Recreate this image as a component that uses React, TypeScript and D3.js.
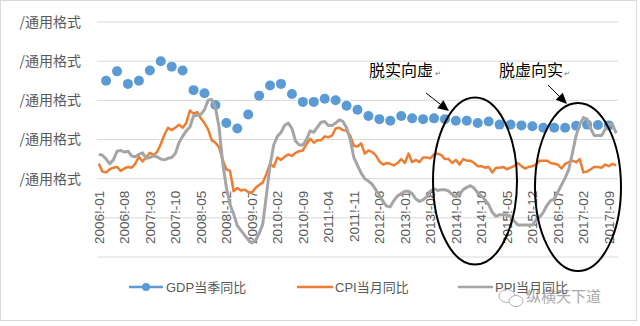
import React from "react";
import * as d3 from "d3";

const W = 640;
const H = 326;

const years = [2006, 2007, 2008, 2009, 2010, 2011, 2012, 2013, 2014, 2015, 2016, 2017];
const monthCount = 143; // 2006-01 .. 2017-11
const categories: string[] = [];
years.forEach((y) => {
  for (let m = 1; m <= 12; m++) {
    if (categories.length < monthCount) categories.push(`${y}!-${String(m).padStart(2, "0")}`);
  }
});

const tickLabels = [
  "2006!-01", "2006!-08", "2007!-03", "2007!-10", "2008!-05", "2008!-12", "2009!-07",
  "2010!-02", "2010!-09", "2011!-04", "2011!-11", "2012!-06", "2013!-01", "2013!-08",
  "2014!-03", "2014!-10", "2015!-05", "2015!-12", "2016!-07", "2017!-02", "2017!-09",
];

const yGrid = [20, 15, 10, 5, 0, -5, -10];
const yLabelTicks = [20, 15, 10, 5, 0];
const yLabelText = "/通用格式";

// GDP quarterly (plotted at quarter-end months)
const gdp = [
  12.5, 13.7, 12.1, 12.5, 13.8, 15.0, 14.3, 13.8, 11.3, 10.9, 9.4, 7.1,
  6.4, 8.2, 10.6, 11.9, 12.1, 10.8, 9.8, 9.8, 10.2, 10.0, 9.3, 8.8,
  8.0, 7.6, 7.4, 8.0, 7.7, 7.6, 7.7, 7.6, 7.4, 7.4, 7.1, 7.3,
  6.9, 6.9, 6.8, 6.7, 6.5, 6.5, 6.5, 6.75, 6.9, 6.85, 6.8,
];

const cpi = [
  1.9, 0.9, 0.8, 1.2, 1.4, 1.5, 1.0, 1.3, 1.5, 1.4, 1.9, 2.8,
  2.2, 2.7, 3.3, 3.0, 3.4, 4.4, 5.6, 6.5, 6.2, 6.5, 6.9, 6.5,
  7.1, 8.7, 8.3, 8.5, 7.7, 7.1, 6.3, 4.9, 4.6, 4.0, 2.4, 1.2,
  1.0, -1.6, -1.2, -1.5, -1.4, -1.7, -1.8, -1.2, -0.8, -0.5, 0.6, 1.9,
  1.5, 2.7, 2.4, 2.8, 3.1, 2.9, 3.3, 3.5, 3.6, 4.4, 5.1, 4.6,
  4.9, 4.9, 5.4, 5.3, 5.5, 6.4, 6.5, 6.2, 6.1, 5.5, 4.2, 4.1,
  4.5, 3.2, 3.6, 3.4, 3.0, 2.2, 1.8, 2.0, 1.9, 1.7, 2.0, 2.5,
  2.0, 3.2, 2.1, 2.4, 2.1, 2.7, 2.7, 2.6, 3.1, 3.2, 3.0, 2.5,
  2.5, 2.0, 2.4, 1.8, 2.5, 2.3, 2.3, 2.0, 1.6, 1.6, 1.4, 1.5,
  0.8, 1.4, 1.4, 1.5, 1.2, 1.4, 1.6, 2.0, 1.6, 1.3, 1.5, 1.6,
  1.8, 2.3, 2.3, 2.3, 2.0, 1.9, 1.8, 1.3, 1.9, 2.1, 2.3, 2.1,
  2.5, 0.8, 0.9, 1.2, 1.5, 1.5, 1.4, 1.8, 1.6, 1.9, 1.7,
];

const ppi = [
  3.1, 3.0, 2.5, 1.9, 2.4, 3.5, 3.6, 3.4, 3.5, 2.9, 2.8, 3.1,
  3.3, 2.6, 2.7, 2.9, 2.8, 2.5, 2.4, 2.6, 2.7, 3.2, 4.6, 5.4,
  6.1, 6.6, 8.0, 8.1, 8.2, 8.8, 10.0, 10.1, 9.1, 6.6, 2.0, -1.1,
  -3.3, -4.5, -6.0, -6.6, -7.2, -7.8, -8.2, -7.9, -7.0, -5.8, -2.1, 1.7,
  4.3, 5.4, 5.9, 6.8, 7.1, 6.4, 4.8, 4.3, 4.3, 5.0, 6.1, 5.9,
  6.6, 7.2, 7.3, 6.8, 6.8, 7.1, 7.5, 7.3, 6.5, 5.0, 2.7, 1.7,
  0.7, 0.0, -0.3, -0.7, -1.4, -2.1, -2.9, -3.5, -3.6, -2.8, -2.2, -1.9,
  -1.6, -1.6, -1.9, -2.6, -2.9, -2.7, -2.3, -1.6, -1.3, -1.5, -1.4, -1.4,
  -1.6, -2.0, -2.3, -2.0, -1.4, -1.1, -0.9, -1.2, -1.8, -2.2, -2.7, -3.3,
  -4.3, -4.8, -4.6, -4.6, -4.6, -4.8, -5.4, -5.9, -5.9, -5.9, -5.9, -5.9,
  -5.3, -4.9, -4.3, -3.4, -2.8, -2.6, -1.7, -0.8, 0.1, 1.2, 3.3, 5.5,
  6.9, 7.8, 7.6, 6.4, 5.5, 5.5, 5.5, 6.3, 6.9, 6.9, 5.8,
];

const seriesNames = ["GDP当季同比", "CPI当月同比", "PPI当月同比"];
const colors = ["#5B9BD5", "#ED7D31", "#A5A5A5"];
const annotations = ["脱实向虚", "脱虚向实"];
const watermark = "纵横天下道";

const LATIN = "'Liberation Sans', 'Noto Sans CJK SC', sans-serif";
const CJK = "'Noto Sans CJK SC', sans-serif";

export default function App() {
  const plotL = 97, plotR = 618, plotT = 22, plotB = 257;
  const x = d3.scaleBand<string>().domain(categories).range([plotL, plotR]);
  const cx = (c: string) => (x(c) as number) + x.bandwidth() / 2;
  const y = d3.scaleLinear().domain([-10, 20]).range([plotB, plotT]);

  const line = d3
    .line<number>()
    .x((_, i) => cx(categories[i]))
    .y((d) => y(d));

  const gdpPts = gdp.map((v, i) => ({ c: categories[2 + i * 3], v }));

  const arrowHead = (x1: number, y1: number, x2: number, y2: number) => {
    const a = Math.atan2(y2 - y1, x2 - x1);
    const L = 11, Wd = 5;
    const bx = x2 - L * Math.cos(a), by = y2 - L * Math.sin(a);
    const p1 = [bx + Wd * Math.sin(a), by - Wd * Math.cos(a)];
    const p2 = [bx - Wd * Math.sin(a), by + Wd * Math.cos(a)];
    return (
      <g>
        <line x1={x1} y1={y1} x2={bx} y2={by} stroke="#000" strokeWidth={1} />
        <polygon points={`${x2},${y2} ${p1[0]},${p1[1]} ${p2[0]},${p2[1]}`} fill="#000" />
      </g>
    );
  };

  const legendY = 287;

  return (
    <svg
      width={W}
      height={H}
      style={{ position: "absolute", left: 0, top: 0, background: "#fff" }}
    >
      <rect x={0} y={0} width={W} height={H} fill="#fff" />
      <rect x={0.5} y={0.5} width={636} height={320} fill="none" stroke="#d9d9d9" />

      {/* gridlines */}
      {yGrid.map((t) => (
        <line key={t} x1={plotL} x2={plotR} y1={y(t)} y2={y(t)} stroke="#d9d9d9" strokeWidth={1} />
      ))}

      {/* y labels */}
      {yLabelTicks.map((t) => (
        <text
          key={t}
          x={81}
          y={y(t)}
          dy="0.35em"
          textAnchor="end"
          fontFamily={CJK}
          fontSize={14}
          fill="#595959"
        >
          {yLabelText}
        </text>
      ))}

      {/* x labels */}
      {tickLabels.map((c) => (
        <text
          key={c}
          transform={`translate(${cx(c) + 5},${y(0) + 12}) rotate(-90)`}
          textAnchor="end"
          fontFamily={LATIN}
          fontSize={13.5}
          fill="#595959"
        >
          {c}
        </text>
      ))}

      {/* GDP dots */}
      {gdpPts.map((p) => (
        <circle key={p.c} cx={cx(p.c)} cy={y(p.v)} r={5} fill={colors[0]} />
      ))}

      {/* CPI */}
      <path d={line(cpi) as string} fill="none" stroke={colors[1]} strokeWidth={2.5} strokeLinejoin="round" />
      {/* PPI */}
      <path d={line(ppi) as string} fill="none" stroke={colors[2]} strokeWidth={3} strokeLinejoin="round" />

      {/* annotations */}
      <ellipse cx={475} cy={181} rx={42} ry={83.5} fill="none" stroke="#000" strokeWidth={2} />
      <ellipse cx={578} cy={187} rx={43} ry={84} fill="none" stroke="#000" strokeWidth={2} />
      {arrowHead(426, 93, 449, 111)}
      {arrowHead(548, 85, 567, 104)}
      <text x={369} y={76} fontFamily={CJK} fontSize={16} fill="#000">
        {annotations[0]}
      </text>
      <text x={499} y={76} fontFamily={CJK} fontSize={16} fill="#000">
        {annotations[1]}
      </text>
      <text x={435} y={76} fontFamily={LATIN} fontSize={7} fill="#666">↵</text>
      <text x={564} y={76} fontFamily={LATIN} fontSize={7} fill="#666">↵</text>
      <line x1={370} x2={402} y1={79} y2={79} stroke="#7fbf7f" strokeWidth={1} strokeDasharray="1.5 1" />
      <line x1={500} x2={528} y1={79} y2={79} stroke="#7fbf7f" strokeWidth={1} strokeDasharray="1.5 1" />

      {/* legend */}
      <line x1={129} x2={163} y1={legendY} y2={legendY} stroke={colors[0]} strokeWidth={2.5} />
      <circle cx={146} cy={legendY} r={4} fill={colors[0]} />
      <text x={166} y={legendY} dy="0.35em" fontFamily={LATIN} fontSize={13} fill="#595959">
        {seriesNames[0]}
      </text>
      <line x1={297} x2={333} y1={legendY} y2={legendY} stroke={colors[1]} strokeWidth={2.5} />
      <text x={335} y={legendY} dy="0.35em" fontFamily={LATIN} fontSize={13} fill="#595959">
        {seriesNames[1]}
      </text>
      <line x1={458} x2={493} y1={legendY} y2={legendY} stroke={colors[2]} strokeWidth={2.5} />
      <text x={495} y={legendY} dy="0.35em" fontFamily={LATIN} fontSize={13} fill="#595959">
        {seriesNames[2]}
      </text>

      {/* watermark */}
      <g opacity={0.75}>
        <ellipse cx={507} cy={296} rx={8} ry={6.5} fill="#fff" stroke="#999" strokeWidth={1} />
        <ellipse cx={516} cy={301} rx={7} ry={5.5} fill="#fff" stroke="#999" strokeWidth={1} />
        <text x={526} y={297} dy="0.35em" fontFamily={CJK} fontSize={15} fill="#8c8c8c">
          {watermark}
        </text>
      </g>
    </svg>
  );
}
